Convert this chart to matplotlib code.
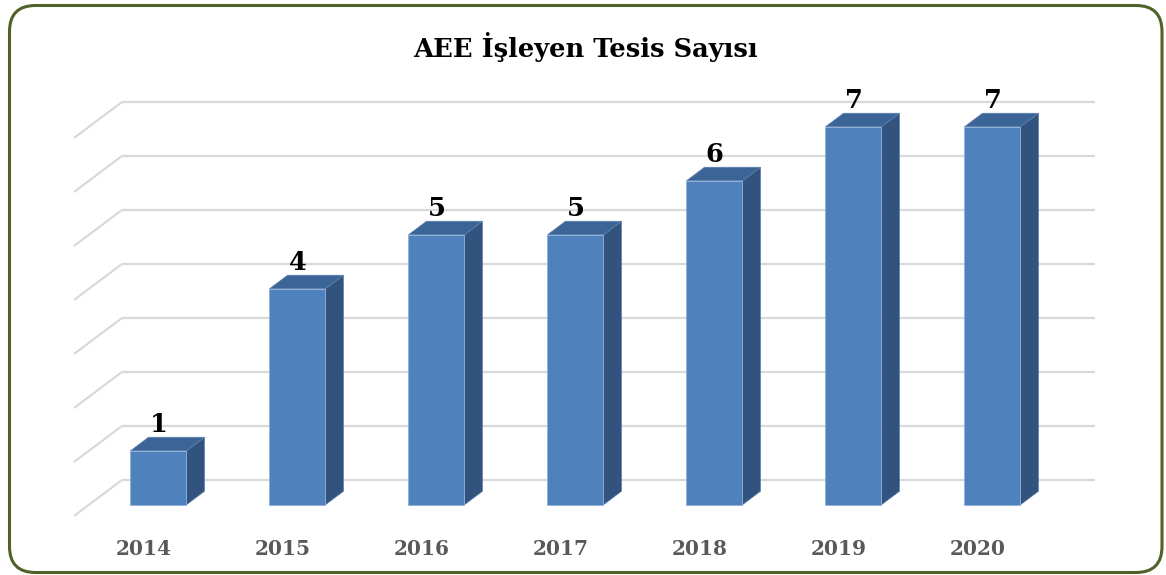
import matplotlib
matplotlib.use("Agg")
import matplotlib.pyplot as plt
from matplotlib.patches import Polygon, FancyBboxPatch
from matplotlib.transforms import IdentityTransform
import numpy as np

years = ["2014", "2015", "2016", "2017", "2018", "2019", "2020"]
values = [1, 4, 5, 5, 6, 7, 7]
title = "AEE İşleyen Tesis Sayısı"
y_ticks = [0, 1, 2, 3, 4, 5, 6, 7]

W, H = 1166, 575
fig = plt.figure(figsize=(W / 100, H / 100), dpi=100)
ax = fig.add_axes([0, 0, 1, 1])
# pixel mapping: back wall x = 122 + 139*c, y = 480 - 54*v (from top)
ax.set_xlim((0 - 122) / 139, (W - 122) / 139)
ax.set_ylim((480 - H) / 54, (480 - 0) / 54)
ax.axis("off")

# depth vector of the floor (front minus back), in data units
Dx, Dy = -48 / 139, -36 / 54
grid_c = "#D9D9D9"
n = len(years)
for v in y_ticks:
    ax.plot([0, n], [v, v], color=grid_c, lw=1.6, zorder=1, solid_capstyle="butt")
    ax.plot([0 + Dx, 0], [v + Dy, v], color=grid_c, lw=1.6, zorder=1, solid_capstyle="butt")

bw = 56 / 139
f_front, f_back = 0.6875, 0.3125
c_front, c_side, c_top = "#4F81BD", "#31537D", "#3B6597"
for i, (yr, v) in enumerate(zip(years, values)):
    cx = i + 0.5
    fx, fy = cx + f_front * Dx, f_front * Dy
    bx, by = cx + f_back * Dx, f_back * Dy
    l, r = fx - bw / 2, fx + bw / 2
    lb, rb = bx - bw / 2, bx + bw / 2
    # side face
    ax.add_patch(Polygon([(r, fy), (rb, by), (rb, by + v), (r, fy + v)],
                         closed=True, facecolor=c_side, edgecolor="#5B7FAD", lw=0.5, zorder=3))
    # top face
    ax.add_patch(Polygon([(l, fy + v), (r, fy + v), (rb, by + v), (lb, by + v)],
                         closed=True, facecolor=c_top, edgecolor="#5B7FAD", lw=0.5, zorder=3))
    # front face
    ax.add_patch(Polygon([(l, fy), (r, fy), (r, fy + v), (l, fy + v)],
                         closed=True, facecolor=c_front, edgecolor="#8FB0DA", lw=0.6, zorder=4))
    ax.annotate(str(v), (fx, by + v), xytext=(0, 0), textcoords="offset points",
                ha="center", va="bottom", fontsize=18.5, fontweight="bold",
                family="DejaVu Serif", color="black", zorder=5)
    ax.annotate(yr, (cx + Dx, Dy), xytext=(0, -24), textcoords="offset points",
                ha="center", va="center", fontsize=14.5, fontweight="bold",
                family="DejaVu Serif", color="#595959")

fig.text(585 / W, 1 - 47 / H, title, ha="center", va="center", fontsize=18.5,
         fontweight="bold", family="DejaVu Serif", color="black")

border = FancyBboxPatch((9.5, 2.5), 1162 - 9.5, 569.5 - 2.5,
                        boxstyle="round,pad=0,rounding_size=26",
                        transform=IdentityTransform(), facecolor="none",
                        edgecolor="#4F6228", lw=2.2, zorder=10)
fig.patches.append(border)

fig.savefig("out.png", dpi=100)
